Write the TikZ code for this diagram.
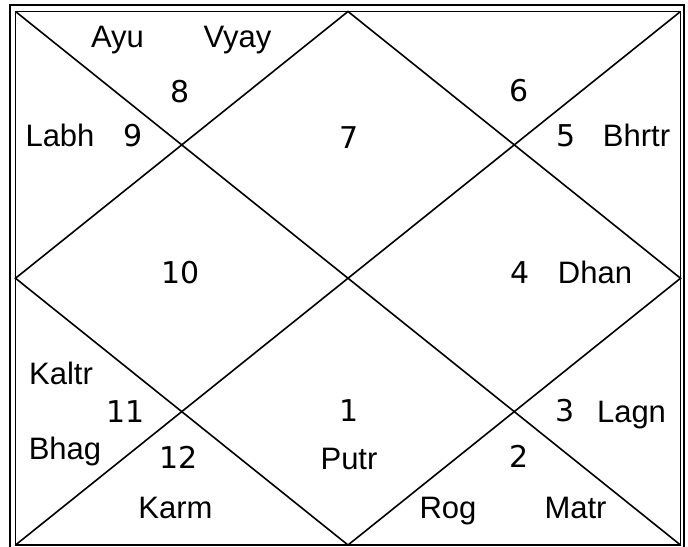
\documentclass[tikz,border=0pt]{standalone}
\usepackage{fontspec}
\setmainfont{Liberation Sans}
\newfontfamily\numfont{DejaVu Sans}
\usetikzlibrary{calc}

\begin{document}
\begin{tikzpicture}[
    x=0.5pt, y=-0.5pt,
    frame/.style={
        draw=black,
        line width=0.9pt
    },
    divider/.style={
        draw=black,
        line width=0.8pt
    },
    house/.style={
        font=\numfont\fontsize{15}{18}\selectfont,
        anchor=base,
        inner sep=0pt
    },
    lord/.style={
        font=\fontsize{15.5}{18}\selectfont,
        anchor=base,
        inner sep=0pt
    }
]
\useasboundingbox (0,0) rectangle (688,546);

% Outer frame
\draw[frame] (10,5) rectangle (684,560);

% Chart corners and side midpoints
\coordinate (tl) at (15.5,11.5);
\coordinate (tr) at (680.5,11.5);
\coordinate (br) at (680.5,545);
\coordinate (bl) at (15.5,545);
\coordinate (top) at ($(tl)!0.5!(tr)$);
\coordinate (right) at ($(tr)!0.5!(br)$);
\coordinate (bottom) at ($(bl)!0.5!(br)$);
\coordinate (left) at ($(tl)!0.5!(bl)$);

% Chart lines
\draw[frame] (tl) rectangle (br);
\draw[divider] (tl) -- (br);
\draw[divider] (tr) -- (bl);
\draw[divider] (top) -- (right) -- (bottom) -- (left) -- cycle;

% House numbers
\node[house] (h1) at (349,421) {1};
\node[house] (h2) at (519.5,467) {2};
\node[house] (h3) at (565.5,421) {3};
\node[house] (h4) at (520,283) {4};
\node[house] (h5) at (566,146) {5};
\node[house] (h6) at (519.5,101) {6};
\node[house] (h7) at (349,148) {7};
\node[house] (h8) at (180.5,102) {8};
\node[house] (h9) at (133.5,146) {9};
\node[house] (h10) at (181,283) {10};
\node[house] (h11) at (126,422) {11};
\node[house] (h12) at (179,468) {12};

% House names
\node[lord] (ayu) at (117.5,47) {Ayu};
\node[lord] (vyay) at (237.5,47) {Vyay};
\node[lord] (labh) at (60,146) {Labh};
\node[lord] (bhrtr) at (636.5,146) {Bhrtr};
\node[lord] (dhan) at (595,283) {Dhan};
\node[lord] (kaltr) at (61,384) {Kaltr};
\node[lord] (lagn) at (631.5,422) {Lagn};
\node[lord] (bhag) at (65,459) {Bhag};
\node[lord] (putr) at (349,469) {Putr};
\node[lord] (karm) at (175.5,518) {Karm};
\node[lord] (rog) at (448,518) {Rog};
\node[lord] (matr) at (575.5,518) {Matr};

\end{tikzpicture}
\end{document}
